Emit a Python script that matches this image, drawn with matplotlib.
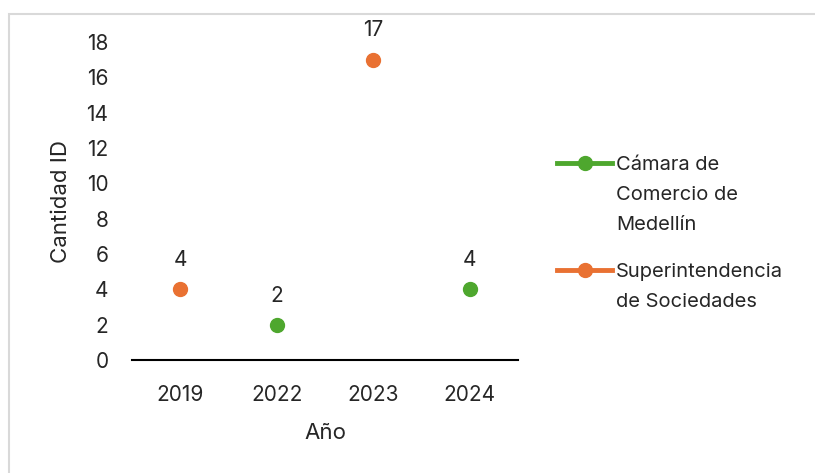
import matplotlib.pyplot as plt
from matplotlib.patches import Rectangle
from matplotlib.lines import Line2D

# datos
anios = ['2019', '2022', '2023', '2024']
camara = [None, 2, None, 4]
superintendencia = [4, None, 17, None]
nombres = ['Cámara de\nComercio de\nMedellín', 'Superintendencia\nde Sociedades']

verde = '#4EA72E'
naranja = '#E97132'
gris = '#262626'

plt.rcParams['font.family'] = ['Inter', 'DejaVu Sans']

fig = plt.figure(figsize=(8.15, 4.73), dpi=100)
fig.patches.append(Rectangle((9/815, -0.05), 1.0, 1 - 14/473 + 0.05, transform=fig.transFigure,
                             fill=False, edgecolor='#D9D9D9', linewidth=1.5))
ax = fig.add_axes([132/815, 1 - 360/473, 386/815, 318/473])

x = list(range(len(anios)))

def puntos(vals):
    xs = [i for i, v in zip(x, vals) if v is not None]
    ys = [v for v in vals if v is not None]
    return xs, ys

for vals, color in [(camara, verde), (superintendencia, naranja)]:
    xs, ys = puntos(vals)
    ax.plot(xs, ys, linestyle='none', marker='o', markersize=10, color=color, zorder=3)
    for xi, yi in zip(xs, ys):
        ax.annotate(str(yi), (xi, yi), xytext=(0, 21), textcoords='offset points',
                    ha='center', va='center', fontsize=15, color=gris)

ax.set_xlim(-0.5, 3.5)
ax.set_ylim(0, 18)
ax.set_yticks(range(0, 19, 2))
ax.set_xticks(x)
ax.set_xticklabels(anios)
for s in ['top', 'right', 'left']:
    ax.spines[s].set_visible(False)
ax.spines['bottom'].set_linewidth(1.5)
ax.tick_params(axis='both', length=0, labelsize=15, labelcolor=gris)
ax.tick_params(axis='y', pad=17)
ax.tick_params(axis='x', pad=18)
ax.set_ylabel('Cantidad ID', fontsize=16, color=gris, labelpad=11)
ax.set_xlabel('Año', fontsize=16, color=gris, labelpad=13)

# leyenda a mano: el trazo va a la altura de la primera linea del texto
for nombre, color, y0 in [(nombres[0], verde, 163), (nombres[1], naranja, 270)]:
    yf = 1 - y0/473
    fig.add_artist(Line2D([557/815, 612/815], [yf, yf], color=color, linewidth=3.5,
                          transform=fig.transFigure))
    fig.add_artist(Line2D([584.5/815], [yf], color=color, marker='o', markersize=10,
                          transform=fig.transFigure))
    fig.text(616/815, 1 - (y0 - 7)/473, nombre, ha='left', va='top', fontsize=14.5,
             color=gris, linespacing=1.85)

fig.savefig('out.png', dpi=100)
